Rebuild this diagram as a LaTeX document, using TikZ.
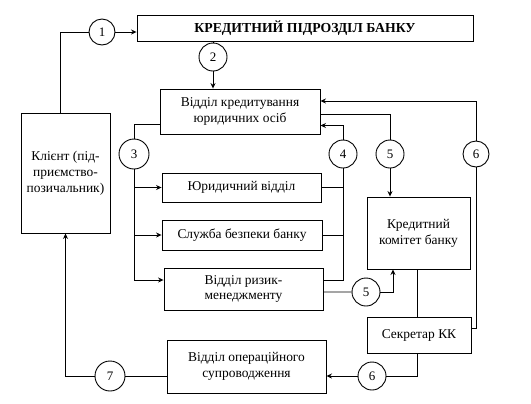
\documentclass[tikz,border=0pt]{standalone}
\usepackage{fontspec}
\setmainfont{Liberation Serif}
\usetikzlibrary{arrows.meta}
\begin{document}
\begin{tikzpicture}[x=1bp,y=-1bp,
  box/.style={draw,line width=0.9bp,inner sep=0pt,align=center,font=\fontsize{13.5}{16}\selectfont},
  num/.style={draw,circle,line width=0.9bp,inner sep=0pt,font=\fontsize{13}{15}\selectfont},
  ln/.style={line width=0.9bp},
  arr/.style={ln,-{Stealth[length=5.5bp,width=5bp]}}]
\useasboundingbox (0,0) rectangle (531,403);
% boxes
\node[box,minimum width=336bp,minimum height=26bp,font=\bfseries\fontsize{13.8}{15}\selectfont] (top) at (305,28) {КРЕДИТНИЙ ПІДРОЗДІЛ БАНКУ};
\node[box,minimum width=160bp,minimum height=45bp] (vid) at (240,111.5) {Відділ кредитування\\юридичних осіб};
\node[box,minimum width=89bp,minimum height=120bp] (client) at (65.5,173) {Клієнт (під-\\приємство-\\позичальник)};
\node[box,minimum width=159bp,minimum height=29bp] (yur) at (241.5,187.5) {Юридичний відділ};
\node[box,minimum width=160bp,minimum height=30bp] (sb) at (242,235) {Служба безпеки банку};
\node[box,minimum width=159bp,minimum height=42bp] (rm) at (243.5,289) {Відділ ризик-\\менеджменту};
\node[box,minimum width=103bp,minimum height=72bp] (kk) at (418.5,233) {Кредитний\\комітет банку};
\node[box,minimum width=104bp,minimum height=36bp] (sek) at (419,335) {Секретар КК};
\node[box,minimum width=159bp,minimum height=53bp] (ops) at (246.5,366.5) {Відділ операційного\\супроводження};
% circles
\node[num,minimum size=26bp] (c1) at (102,32) {1};
\node[num,minimum size=28bp] (c2) at (213,57) {2};
\node[num,minimum size=30bp] (c3) at (134,154) {3};
\node[num,minimum size=28bp] (c4) at (343,154) {4};
\node[num,minimum size=28bp] (c5a) at (390,154) {5};
\node[num,minimum size=26bp] (c6a) at (476,154) {6};
\node[num,minimum size=28bp] (c5b) at (366,292) {5};
\node[num,minimum size=28bp] (c6b) at (372,376) {6};
\node[num,minimum size=30bp] (c7) at (110,376) {7};
% connectors
\draw[ln] ([xshift=-5.5bp]client.north) |- (c1);
\draw[arr] (c1) -- (c1 -| top.west);
\draw[ln] (top.south -| c2) -- (c2);
\draw[arr] (c2) -- (c2 |- vid.north);
\draw[ln] ([yshift=-12.5bp]vid.west) -| (c3);
\draw[arr] (c3) |- ([yshift=9bp]rm.west);
\draw[arr] (c3 |- yur.west) -- (yur.west);
\draw[arr] (c3 |- sb.west) -- (sb.west);
\draw[ln] (yur.east) -| (c4);
\draw[ln] (sb.east) -- (sb.east -| c4);
\draw[ln] ([yshift=9bp]rm.east) -| (c4);
\draw[arr] (c4) |- ([yshift=-14bp]vid.east);
\draw[ln] ([yshift=-2.5bp]vid.east) -| (c5a);
\draw[arr] (c5a) -- (c5a |- kk.north);
\draw[ln] ([yshift=7bp]sek.east) -| (c6a);
\draw[arr] (c6a) |- ([yshift=10.5bp]vid.east);
\draw[ln] ([xshift=-1.5bp]kk.south) -- ([xshift=-2bp]sek.north);
\draw[ln] ([yshift=-3bp]rm.east) -- (c5b);
\draw[arr] (c5b) -| ([xshift=-25.5bp]kk.south);
\draw[ln] ([xshift=-2bp]sek.south) |- (c6b);
\draw[arr] (c6b) -- (c6b -| ops.east);
\draw[ln] (c7 -| ops.west) -- (c7);
\draw[arr] (c7) -| (client.south);
\end{tikzpicture}
\end{document}
